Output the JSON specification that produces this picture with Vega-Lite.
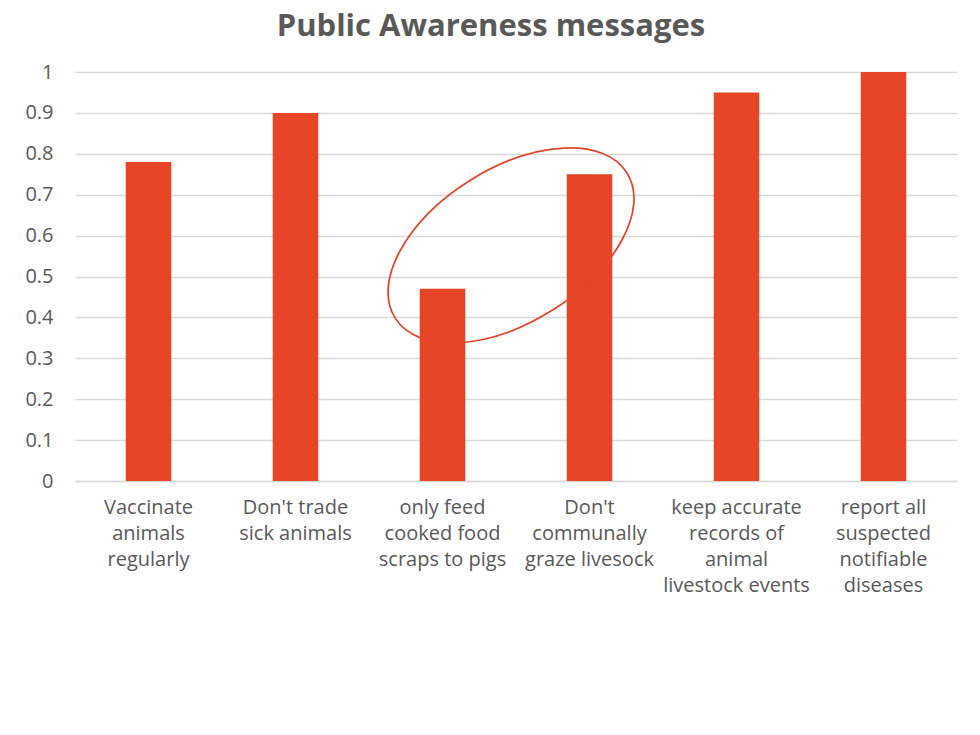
{
  "$schema": "https://vega.github.io/schema/vega-lite/v6.json",
  "width": 882,
  "height": 409,
  "autosize": "none",
  "padding": {"left": 75, "top": 72, "right": 23, "bottom": 254},
  "background": "white",
  "title": {
    "text": "Public Awareness messages",
    "anchor": "middle",
    "frame": "bounds",
    "font": "Open Sans",
    "fontSize": 31,
    "fontWeight": "bold",
    "color": "#595959",
    "offset": 19
  },
  "config": {
    "view": {"stroke": null},
    "font": "Open Sans"
  },
  "layer": [
    {
      "data": {
        "values": [
          {"message": "Vaccinate|animals|regularly", "value": 0.78},
          {"message": "Don't trade|sick animals", "value": 0.9},
          {"message": "only feed|cooked food|scraps to pigs", "value": 0.47},
          {"message": "Don't|communally|graze livesock", "value": 0.75},
          {"message": "keep accurate|records of|animal|livestock events", "value": 0.95},
          {"message": "report all|suspected|notifiable|diseases", "value": 1.0}
        ]
      },
      "mark": {"type": "bar", "color": "#E64626"},
      "encoding": {
        "x": {
          "field": "message",
          "type": "nominal",
          "sort": null,
          "scale": {"paddingInner": 0.69, "paddingOuter": 0.345},
          "axis": {
            "title": null,
            "labelAngle": 0,
            "labelExpr": "split(datum.value, '|')",
            "labelFont": "Open Sans",
            "labelFontSize": 20,
            "labelColor": "#595959",
            "labelLineHeight": 26,
            "labelPadding": 16,
            "labelLimit": 300,
            "ticks": false,
            "domainColor": "#D9D9D9",
            "domainWidth": 1.5
          }
        },
        "y": {
          "field": "value",
          "type": "quantitative",
          "scale": {"domain": [0, 1], "nice": false},
          "axis": {
            "title": null,
            "values": [0, 0.1, 0.2, 0.3, 0.4, 0.5, 0.6, 0.7, 0.8, 0.9, 1],
            "labelExpr": "datum.value == 0 ? '0' : datum.value == 1 ? '1' : format(datum.value, '.1f')",
            "labelFont": "Open Sans",
            "labelFontSize": 20,
            "labelColor": "#595959",
            "labelPadding": 22,
            "ticks": false,
            "domain": false,
            "gridColor": "#D9D9D9",
            "gridWidth": 1.5
          }
        }
      }
    },
    {
      "data": {"values": [{"pos": 2.966, "level": 0.576}]},
      "mark": {
        "type": "point",
        "shape": "M 1 0 C 1 0.31 0.552 0.562 0 0.562 C -0.552 0.562 -1 0.31 -1 0 C -1 -0.31 -0.552 -0.562 0 -0.562 C 0.552 -0.562 1 -0.31 1 0 Z",
        "size": 74857,
        "angle": -32,
        "filled": false,
        "stroke": "#E64626",
        "strokeWidth": 1.75,
        "opacity": 1
      },
      "encoding": {
        "x": {
          "field": "pos",
          "type": "quantitative",
          "scale": {"domain": [0, 6], "nice": false, "zero": false},
          "axis": null
        },
        "y": {"field": "level", "type": "quantitative"}
      }
    }
  ],
  "resolve": {"scale": {"x": "independent"}}
}
